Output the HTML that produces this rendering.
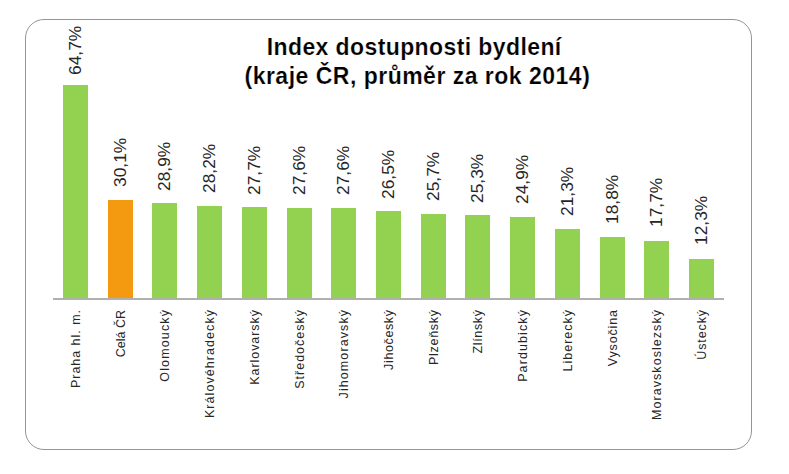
<!DOCTYPE html>
<html><head><meta charset="utf-8"><style>
html,body{margin:0;padding:0;background:#fff;width:789px;height:474px;overflow:hidden;position:relative;font-family:"Liberation Sans",sans-serif}
.frame{position:absolute;left:25px;top:19px;width:727px;height:431px;border:1px solid #959595;border-radius:19px;box-sizing:border-box}
.title{position:absolute;left:416px;width:0;text-align:center;font-weight:bold;font-size:23px;line-height:28px;color:#000;white-space:nowrap}
.title span{position:absolute;left:0;transform:translateX(-50%);-webkit-text-stroke:0.2px #fff;letter-spacing:0.4px}
.axis{position:absolute;z-index:2;left:53px;top:298px;width:671px;height:2px;background:#b0b0b0}
.bar{position:absolute}
.rw{position:absolute;width:0;height:0;transform:rotate(-90deg);transform-origin:0 0}
.dl{position:absolute;left:0;top:-8.7px;height:17.4px;line-height:17.4px;font-size:17.4px;white-space:nowrap;color:#262626;transform-origin:0 50%;display:block}
.cl{position:absolute;right:0;top:-6.25px;height:12.5px;line-height:12.5px;font-size:12.5px;white-space:nowrap;color:#262626;transform-origin:100% 50%;display:block}
</style></head><body>
<div class="frame"></div>
<div class="title" style="top:33px;left:414.2px"><span style="letter-spacing:0.4px">Index dostupnosti bydlení</span></div>
<div class="title" style="top:61.7px;left:417.4px"><span style="letter-spacing:0.49px">(kraje ČR, průměr za rok 2014)</span></div>
<div class="axis"></div>
<div class="bar" style="left:63.00px;top:84.60px;width:25px;height:215.40px;background:#93d150"></div>
<div class="rw" style="left:75.50px;top:74.62px"><span class="dl" style="transform:scaleX(1.0000)">64,7%</span></div>
<div class="rw" style="left:76.30px;top:309.6px"><span class="cl" style="letter-spacing:0.963px;margin-right:-0.963px">Praha hl. m.</span></div>
<div class="bar" style="left:108.00px;top:199.51px;width:25px;height:100.49px;background:#f39a10"></div>
<div class="rw" style="left:120.50px;top:187.07px"><span class="dl" style="transform:scaleX(1.0000)">30,1%</span></div>
<div class="rw" style="left:121.30px;top:309.6px"><span class="cl" style="letter-spacing:0.0px;margin-right:-0.0px">Celá ČR</span></div>
<div class="bar" style="left:152.00px;top:203.49px;width:25px;height:96.51px;background:#93d150"></div>
<div class="rw" style="left:164.50px;top:190.97px"><span class="dl" style="transform:scaleX(1.0000)">28,9%</span></div>
<div class="rw" style="left:165.30px;top:309.6px"><span class="cl" style="letter-spacing:1.15px;margin-right:-1.15px">Olomoucký</span></div>
<div class="bar" style="left:197.00px;top:205.82px;width:25px;height:94.18px;background:#93d150"></div>
<div class="rw" style="left:209.50px;top:193.25px"><span class="dl" style="transform:scaleX(1.0000)">28,2%</span></div>
<div class="rw" style="left:210.30px;top:309.6px"><span class="cl" style="letter-spacing:1.071px;margin-right:-1.071px">Královéhradecký</span></div>
<div class="bar" style="left:242.00px;top:207.48px;width:25px;height:92.52px;background:#93d150"></div>
<div class="rw" style="left:254.50px;top:194.88px"><span class="dl" style="transform:scaleX(1.0000)">27,7%</span></div>
<div class="rw" style="left:255.30px;top:309.6px"><span class="cl" style="letter-spacing:0.94px;margin-right:-0.94px">Karlovarský</span></div>
<div class="bar" style="left:287.00px;top:207.81px;width:25px;height:92.19px;background:#93d150"></div>
<div class="rw" style="left:299.50px;top:195.20px"><span class="dl" style="transform:scaleX(1.0000)">27,6%</span></div>
<div class="rw" style="left:300.30px;top:309.6px"><span class="cl" style="letter-spacing:1.0px;margin-right:-1.0px">Středočeský</span></div>
<div class="bar" style="left:331.00px;top:207.81px;width:25px;height:92.19px;background:#93d150"></div>
<div class="rw" style="left:343.50px;top:195.20px"><span class="dl" style="transform:scaleX(1.0000)">27,6%</span></div>
<div class="rw" style="left:344.30px;top:309.6px"><span class="cl" style="letter-spacing:1.09px;margin-right:-1.09px">Jihomoravský</span></div>
<div class="bar" style="left:376.00px;top:211.46px;width:25px;height:88.54px;background:#93d150"></div>
<div class="rw" style="left:388.50px;top:198.77px"><span class="dl" style="transform:scaleX(1.0000)">26,5%</span></div>
<div class="rw" style="left:389.30px;top:309.6px"><span class="cl" style="letter-spacing:0.625px;margin-right:-0.625px">Jihočeský</span></div>
<div class="bar" style="left:421.00px;top:214.12px;width:25px;height:85.88px;background:#93d150"></div>
<div class="rw" style="left:433.50px;top:201.38px"><span class="dl" style="transform:scaleX(1.0000)">25,7%</span></div>
<div class="rw" style="left:434.30px;top:309.6px"><span class="cl" style="letter-spacing:0.714px;margin-right:-0.714px">Plzeňský</span></div>
<div class="bar" style="left:465.00px;top:215.45px;width:25px;height:84.55px;background:#93d150"></div>
<div class="rw" style="left:477.50px;top:202.67px"><span class="dl" style="transform:scaleX(1.0000)">25,3%</span></div>
<div class="rw" style="left:478.30px;top:309.6px"><span class="cl" style="letter-spacing:0.667px;margin-right:-0.667px">Zlínský</span></div>
<div class="bar" style="left:510.00px;top:216.78px;width:25px;height:83.22px;background:#93d150"></div>
<div class="rw" style="left:522.50px;top:203.97px"><span class="dl" style="transform:scaleX(1.0000)">24,9%</span></div>
<div class="rw" style="left:523.30px;top:309.6px"><span class="cl" style="letter-spacing:1.112px;margin-right:-1.112px">Pardubický</span></div>
<div class="bar" style="left:555.00px;top:228.73px;width:25px;height:71.27px;background:#93d150"></div>
<div class="rw" style="left:567.50px;top:215.67px"><span class="dl" style="transform:scaleX(1.0000)">21,3%</span></div>
<div class="rw" style="left:568.30px;top:309.6px"><span class="cl" style="letter-spacing:1.0px;margin-right:-1.0px">Liberecký</span></div>
<div class="bar" style="left:600.00px;top:237.04px;width:25px;height:62.96px;background:#93d150"></div>
<div class="rw" style="left:612.50px;top:223.80px"><span class="dl" style="transform:scaleX(1.0000)">18,8%</span></div>
<div class="rw" style="left:613.30px;top:309.6px"><span class="cl" style="letter-spacing:0.857px;margin-right:-0.857px">Vysočina</span></div>
<div class="bar" style="left:644.00px;top:240.69px;width:25px;height:59.31px;background:#93d150"></div>
<div class="rw" style="left:656.50px;top:227.37px"><span class="dl" style="transform:scaleX(1.0000)">17,7%</span></div>
<div class="rw" style="left:657.30px;top:309.6px"><span class="cl" style="letter-spacing:1.058px;margin-right:-1.058px">Moravskoslezský</span></div>
<div class="bar" style="left:689.00px;top:258.62px;width:25px;height:41.38px;background:#93d150"></div>
<div class="rw" style="left:701.50px;top:244.92px"><span class="dl" style="transform:scaleX(1.0000)">12,3%</span></div>
<div class="rw" style="left:702.30px;top:309.6px"><span class="cl" style="letter-spacing:0.866px;margin-right:-0.866px">Ústecký</span></div>
</body></html>
